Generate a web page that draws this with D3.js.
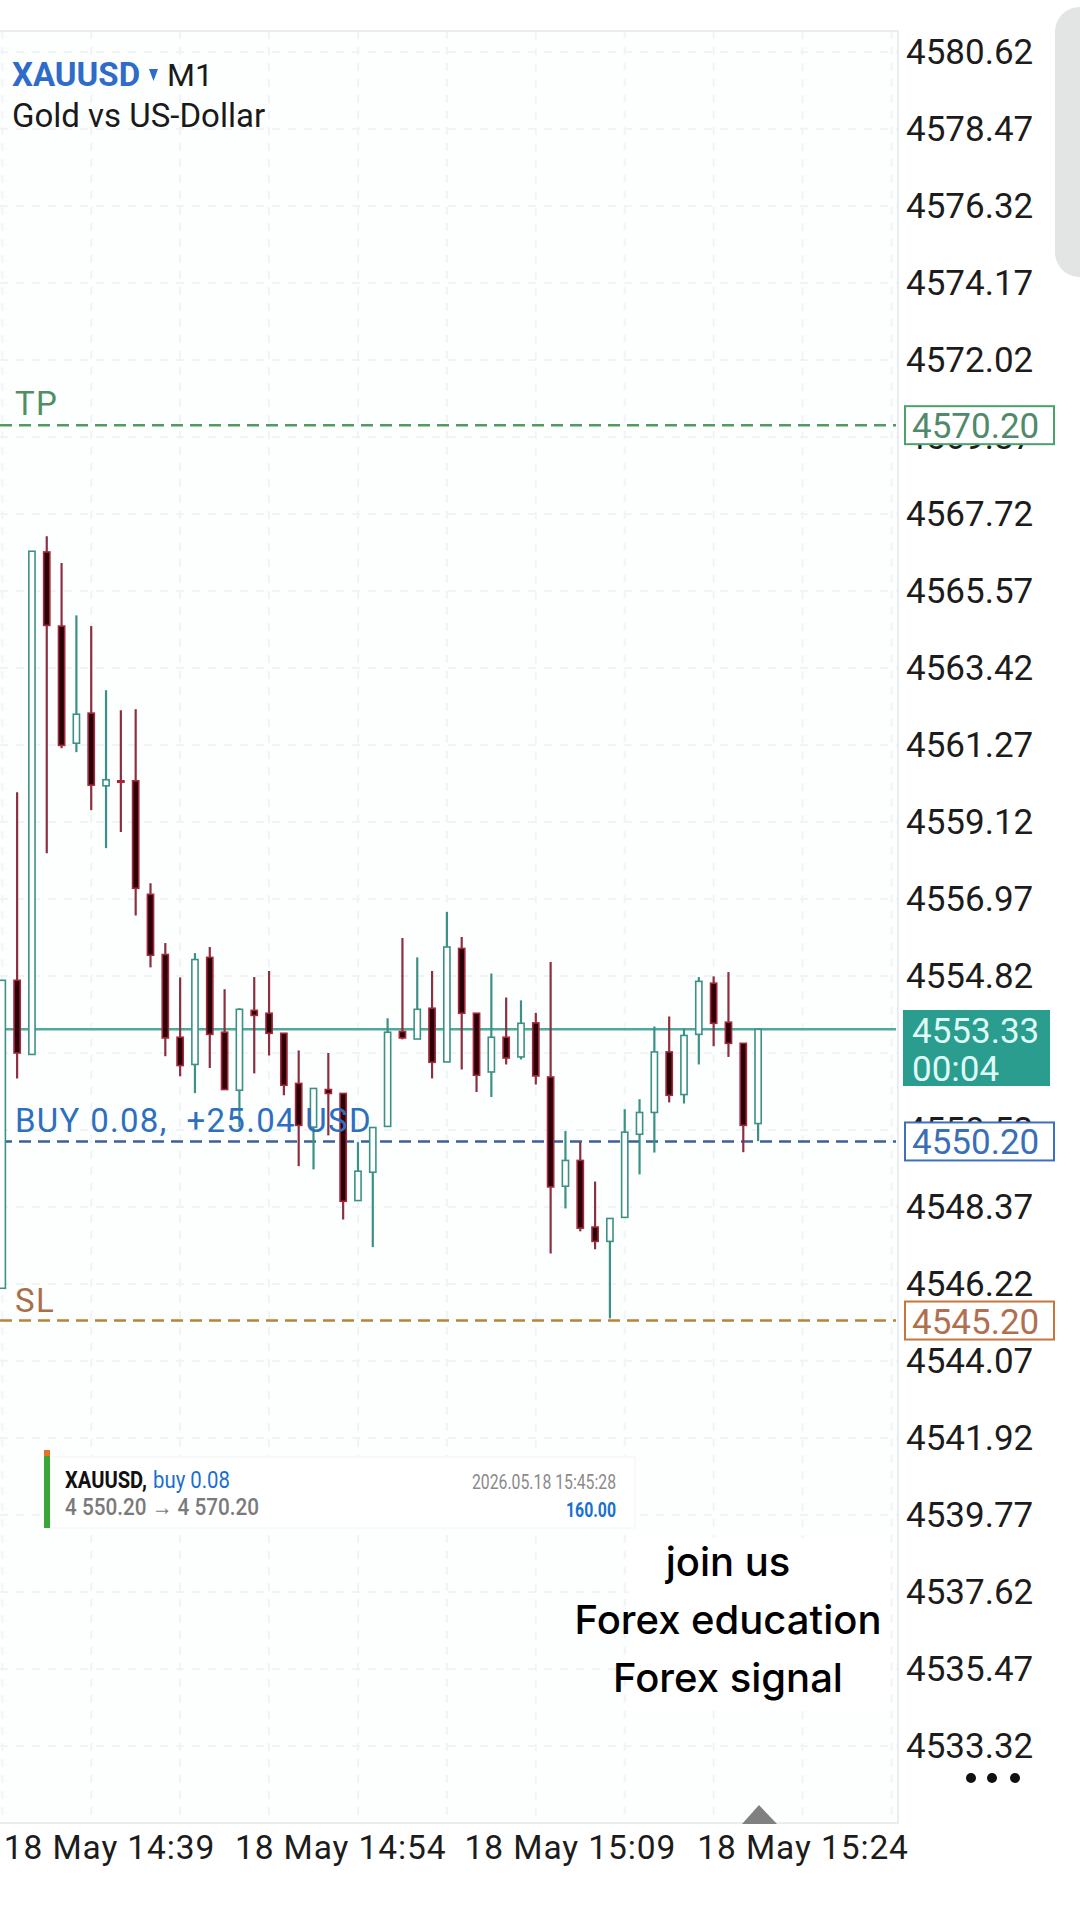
<!DOCTYPE html>
<html>
<head>
<meta charset="utf-8">
<script src="https://cdn.jsdelivr.net/npm/d3@7"></script>
<style>
  html, body { margin: 0; padding: 0; background: #fff; }
  svg { display: block; font-family: Roboto, sans-serif; }
</style>
</head>
<body>
<svg id="chart" width="1080" height="1920"></svg>
<script>
// Candles, oldest first
const opens = [4546.10,4554.70,4552.63,4566.66,4564.59,4561.32,4562.16,4560.13,4560.27,4560.27,4557.10,4555.42,4553.11,4552.35,4555.34,4553.25,4551.63,4553.86,4553.78,4553.22,4551.82,4550.60,4551.65,4551.54,4548.55,4549.34,4550.62,4553.27,4553.06,4553.92,4552.42,4555.59,4553.78,4552.14,4553.11,4552.56,4553.51,4552.00,4548.95,4549.67,4547.81,4547.41,4548.08,4550.40,4551.01,4552.70,4551.51,4553.19,4554.62,4553.53,4552.94,4550.70];
const closes = [4554.70,4552.67,4566.68,4564.61,4561.26,4562.13,4560.15,4560.30,4560.23,4557.27,4555.40,4553.09,4552.32,4555.28,4553.19,4551.65,4553.89,4553.72,4553.22,4551.77,4550.65,4551.68,4551.54,4548.53,4549.37,4550.59,4553.25,4553.09,4553.89,4552.41,4555.63,4553.78,4552.05,4553.11,4552.53,4553.50,4552.03,4548.93,4549.67,4547.78,4547.41,4548.05,4550.46,4551.01,4552.70,4551.49,4553.16,4554.67,4553.50,4552.94,4550.65,4553.33];
const highs = [4554.70,4559.95,4566.68,4567.10,4566.35,4564.89,4564.59,4562.80,4562.24,4562.27,4557.41,4555.74,4554.78,4555.46,4555.63,4554.45,4553.92,4554.79,4554.96,4553.23,4552.74,4551.68,4552.67,4551.54,4550.18,4550.59,4553.64,4555.88,4555.34,4554.96,4556.61,4555.91,4553.78,4554.89,4554.22,4554.14,4553.79,4555.21,4550.49,4550.18,4549.08,4548.05,4551.10,4551.38,4553.41,4553.69,4553.36,4554.79,4554.81,4554.93,4552.94,4553.33];
const lows = [4546.10,4551.96,4552.63,4558.25,4561.18,4561.07,4559.45,4558.39,4558.84,4556.51,4555.06,4552.58,4552.02,4551.55,4552.25,4551.65,4550.60,4552.10,4552.60,4551.49,4549.51,4549.42,4550.37,4548.02,4548.55,4547.25,4550.62,4553.05,4553.06,4551.96,4552.42,4552.21,4551.58,4551.44,4552.35,4552.49,4551.79,4547.07,4548.33,4547.69,4547.19,4545.26,4548.08,4549.28,4549.89,4551.29,4551.26,4552.35,4552.86,4552.56,4549.90,4550.21];

const priceTicks = [4580.62,4578.47,4576.32,4574.17,4572.02,4569.87,4567.72,4565.57,4563.42,4561.27,4559.12,4556.97,4554.82,4552.67,4550.52,4548.37,4546.22,4544.07,4541.92,4539.77,4537.62,4535.47,4533.32];
const timeLabels = ['18 May 14:39','18 May 14:54','18 May 15:09','18 May 15:24'];
const timeTickIndex = [7.2,22.8,38.3,54];
const gridIndex = [0,6,12,18,24,30,36,42,48,54,60];

const tpPrice = 4570.20;
const buyPrice = 4550.20;
const slPrice = 4545.20;
const lastPrice = 4553.33;

const width = 1080;
const height = 1920;
const plotRight = 898;
const plotTop = 31;
const plotBottom = 1823;
const bodyWidth = 6.2;

const xScale = d3.scaleLinear().domain([0, 51]).range([2.3, 758.1]);
const yScale = d3.scaleLinear().domain([4580.62, 4533.32]).range([52, 1746]);

const svg = d3.select('#chart');
svg.append('rect').attr('width', width).attr('height', height).attr('fill', '#fff');
svg.append('rect')
  .attr('y', plotTop)
  .attr('width', plotRight)
  .attr('height', plotBottom - plotTop)
  .attr('fill', '#fdffff');

// Grid
svg.append('g')
  .selectAll('line')
  .data(gridIndex)
  .join('line')
  .attr('x1', (d) => xScale(d))
  .attr('x2', (d) => xScale(d))
  .attr('y1', plotTop)
  .attr('y2', plotBottom)
  .attr('stroke', '#f1f4f6')
  .attr('stroke-width', 2)
  .attr('stroke-dasharray', '8 8');
svg.append('g')
  .selectAll('line')
  .data(priceTicks)
  .join('line')
  .attr('x1', 0)
  .attr('x2', plotRight)
  .attr('y1', (d) => yScale(d))
  .attr('y2', (d) => yScale(d))
  .attr('stroke', '#f1f4f6')
  .attr('stroke-width', 2)
  .attr('stroke-dasharray', '8 8');

// Plot border
svg.append('path')
  .attr('d', `M0,${plotTop}H${plotRight}V${plotBottom}H0`)
  .attr('fill', 'none')
  .attr('stroke', '#e9edf0')
  .attr('stroke-width', 2);

// Price line sits under the candles
svg.append('line')
  .attr('x1', 0)
  .attr('x2', plotRight - 2)
  .attr('y1', yScale(lastPrice))
  .attr('y2', yScale(lastPrice))
  .attr('stroke', '#4fa99c')
  .attr('stroke-width', 2.5);

// Order lines
const orderLines = [
  { price: tpPrice, color: '#519b63' },
  { price: buyPrice, color: '#3f6096' },
  { price: slPrice, color: '#bb8338' },
];
svg.append('g')
  .selectAll('line')
  .data(orderLines)
  .join('line')
  .attr('x1', 0)
  .attr('x2', plotRight - 2)
  .attr('y1', (d) => yScale(d.price))
  .attr('y2', (d) => yScale(d.price))
  .attr('stroke', (d) => d.color)
  .attr('stroke-width', 2.5)
  .attr('stroke-dasharray', '12 7');

// Candles
const candles = d3.range(opens.length).map((i) => ({
  i: i,
  open: opens[i],
  close: closes[i],
  high: highs[i],
  low: lows[i],
  up: closes[i] >= opens[i],
}));
const candle = svg.append('g')
  .selectAll('g')
  .data(candles)
  .join('g')
  .attr('transform', (d) => `translate(${xScale(d.i)},0)`);
candle.append('line')
  .attr('y1', (d) => yScale(d.high))
  .attr('y2', (d) => yScale(d.low))
  .attr('stroke', (d) => (d.up ? '#3c9186' : '#8c3040'))
  .attr('stroke-width', 2.2);
candle.append('rect')
  .attr('x', -bodyWidth / 2)
  .attr('width', bodyWidth)
  .attr('y', (d) => yScale(Math.max(d.open, d.close)))
  .attr('height', (d) => Math.abs(yScale(d.open) - yScale(d.close)))
  .attr('fill', (d) => (d.up ? '#fff' : '#2b0009'))
  .attr('stroke', (d) => (d.up ? '#3c9186' : '#a3293a'))
  .attr('stroke-width', 1.6);

// Axes
const priceAxis = svg.append('g')
  .attr('transform', `translate(906,0)`)
  .call(d3.axisRight(yScale)
    .tickValues(priceTicks)
    .tickSize(0)
    .tickPadding(0)
    .tickFormat(d3.format('.2f')));
priceAxis.select('.domain').remove();
priceAxis.selectAll('text')
  .attr('font-family', 'Roboto, sans-serif')
  .attr('font-size', 35)
  .attr('fill', '#1c1c1c');

const timeAxis = svg.append('g')
  .attr('transform', `translate(0,${plotBottom})`)
  .call(d3.axisBottom(xScale)
    .tickValues(timeTickIndex)
    .tickSize(0)
    .tickPadding(12)
    .tickFormat((d, i) => timeLabels[i]));
timeAxis.select('.domain').remove();
timeAxis.selectAll('text')
  .attr('font-family', 'Roboto, sans-serif')
  .attr('font-size', 33.5)
  .attr('letter-spacing', 0.9)
  .attr('fill', '#1c1c1c');

// Symbol header
function label(x, y, text, size, color, weight) {
  return svg.append('text')
    .attr('x', x)
    .attr('y', y)
    .attr('font-size', size)
    .attr('fill', color)
    .attr('font-weight', weight || 400)
    .text(text);
}
label(12, 86, 'XAUUSD', 33, '#2f6bc8', 700);
svg.append('path').attr('d', 'M149,69H158L153.5,81Z').attr('fill', '#2f6bc8');
label(167, 86, 'M1', 32, '#1a1a1a');
label(12, 127, 'Gold vs US-Dollar', 33, '#1a1a1a');

// Order line captions
label(15, 415, 'TP', 33, '#4f8f60').attr('letter-spacing', 1.3);
label(15, 1132, 'BUY 0.08,\u00a0\u00a0+25.04 USD', 33, '#2e6fc0').attr('letter-spacing', 1.3);
label(15, 1312, 'SL', 33, '#a8704a').attr('letter-spacing', 1.3);

// Price tags
const tags = [
  { price: tpPrice, stroke: '#4aa468', text: '#4f8a6a' },
  { price: buyPrice, stroke: '#3f6fc0', text: '#3a6fb5' },
  { price: slPrice, stroke: '#c4763c', text: '#b07050' },
];
const tag = svg.append('g').selectAll('g').data(tags).join('g');
tag.append('rect')
  .attr('x', 905)
  .attr('width', 149)
  .attr('y', (d) => yScale(d.price) - 19)
  .attr('height', 38)
  .attr('fill', '#fff')
  .attr('stroke', (d) => d.stroke)
  .attr('stroke-width', 2);
tag.append('text')
  .attr('x', 912)
  .attr('y', (d) => yScale(d.price) + 13)
  .attr('font-size', 35)
  .attr('fill', (d) => d.text)
  .text((d) => d.price.toFixed(2));

svg.append('rect')
  .attr('x', 903)
  .attr('y', 1010)
  .attr('width', 147)
  .attr('height', 76)
  .attr('fill', '#2a9d8f');
label(912, 1043, lastPrice.toFixed(2), 35, '#dffbf5');
label(912, 1081, '00:04', 35, '#dffbf5');

// Trade notice card
svg.append('rect')
  .attr('x', 50)
  .attr('y', 1457)
  .attr('width', 585)
  .attr('height', 71)
  .attr('fill', '#fff')
  .attr('stroke', '#f6f8f8')
  .attr('stroke-width', 1.5);
svg.append('rect').attr('x', 44).attr('y', 1450).attr('width', 6).attr('height', 78).attr('fill', '#3aa63a');
svg.append('rect').attr('x', 44).attr('y', 1450).attr('width', 6).attr('height', 6).attr('fill', '#e8702a');

function squeezed(x, y, text, size, color, weight, length, anchor) {
  return label(x, y, text, size, color, weight)
    .attr('text-anchor', anchor || 'start')
    .attr('textLength', length)
    .attr('lengthAdjust', 'spacingAndGlyphs');
}
squeezed(65, 1488, 'XAUUSD,', 24, '#111', 700, 82);
squeezed(153, 1488, 'buy 0.08', 24, '#1a6fd0', 400, 77);
squeezed(65, 1515, '4 550.20 \u2192 4 570.20', 24, '#7a7a7a', 500, 194);
squeezed(616, 1489, '2026.05.18 15:45:28', 20, '#8a8a8a', 400, 144, 'end');
squeezed(616, 1517, '160.00', 20, '#1a6fd0', 700, 50, 'end');

// Promo overlay on its own white patch
const promo = ['join us', 'Forex education', 'Forex signal'];
const promoY = d3.scaleLinear().domain([0, 2]).range([1576, 1692]);
svg.append('rect')
  .attr('x', 628)
  .attr('y', 1538)
  .attr('width', 262)
  .attr('height', 172)
  .attr('fill', '#fff');
svg.append('g')
  .selectAll('text')
  .data(promo)
  .join('text')
  .attr('x', 728)
  .attr('y', (d, i) => promoY(i))
  .attr('text-anchor', 'middle')
  .attr('font-family', 'Inter, sans-serif')
  .attr('font-size', 40)
  .attr('font-weight', 500)
  .attr('fill', '#000')
  .text((d) => d);

// Phone chrome: scroll handle, menu dots, chart-shift marker
svg.append('path')
  .attr('d', 'M1080,7H1080C1066,7 1055,18 1055,32V252C1055,266 1066,277 1080,277Z')
  .attr('fill', '#e3e5e5');
svg.append('g')
  .selectAll('circle')
  .data([971, 992, 1015])
  .join('circle')
  .attr('cx', (d) => d)
  .attr('cy', 1778)
  .attr('r', 5)
  .attr('fill', '#111');
svg.append('path').attr('d', 'M742,1824L759,1805L777,1824Z').attr('fill', '#808080');
</script>
</body>
</html>
